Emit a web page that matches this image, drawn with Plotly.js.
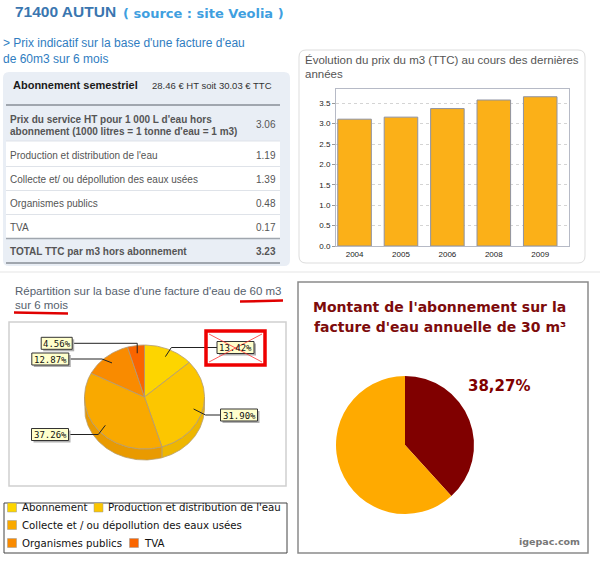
<!DOCTYPE html>
<html><head><meta charset="utf-8">
<script src="https://cdn.plot.ly/plotly-3.0.1.min.js"></script>
<style>html,body{margin:0;padding:0;background:#fff}#chart{width:600px;height:565px}</style>
</head><body><div id="chart"></div>
<script>
// ---------- DATA ----------
const years = ['2004', '2005', '2006', '2008', '2009'];
const prices = [3.11, 3.16, 3.37, 3.58, 3.66];

const pieLabels = ['Abonnement', "Production et distribution de l'eau", 'Collecte et / ou dépollution des eaux usées', 'Organismes publics', 'TVA'];
const pieValues = [13.42, 31.90, 37.26, 12.87, 4.56];
const pieColors = ['#FDD500', '#FCC600', '#F9A900', '#F98B00', '#FA6500'];
const pieSideColors = ['#E8C000', '#EEB600', '#E99A00', '#E67E00', '#E55A00'];

const tableLabels = ["Production et distribution de l'eau", 'Collecte et/ ou dépollution des eaux usées', 'Organismes publics', 'TVA'];
const tableValues = [1.19, 1.39, 0.48, 0.17];
const serviceHT = [3.06];
const totalTTC = [3.23];
const aboHT = [28.46];
const aboTTC = [30.03];

const aboLabels = ['Abonnement', 'Consommation'];
const aboShare = [38.27, 61.73];
const aboColors = ['#800000', '#FFAA00'];

// ---------- HELPERS ----------
const W = 600, H = 565;
const X = v => v / W, Y = v => 1 - v / H;
function rect(x0, y0, x1, y1, fill, lc, lw, layer) {
  return {type: 'rect', xref: 'paper', yref: 'paper', x0: X(x0), x1: X(x1), y0: Y(y1), y1: Y(y0),
    fillcolor: fill || 'rgba(0,0,0,0)', line: {color: lc || 'rgba(0,0,0,0)', width: lw || 0}, layer: layer || 'below'};
}
function seg(x0, y0, x1, y1, color, w, layer) {
  return {type: 'line', xref: 'paper', yref: 'paper', x0: X(x0), y0: Y(y0), x1: X(x1), y1: Y(y1),
    line: {color: color, width: w}, layer: layer || 'below'};
}
function roundRect(x0, y0, x1, y1, r, fill, lc, lw) {
  const p = (x, y) => X(x) + ',' + Y(y);
  const d = 'M' + p(x0 + r, y0) + ' L' + p(x1 - r, y0) + ' Q' + p(x1, y0) + ' ' + p(x1, y0 + r) +
    ' L' + p(x1, y1 - r) + ' Q' + p(x1, y1) + ' ' + p(x1 - r, y1) + ' L' + p(x0 + r, y1) +
    ' Q' + p(x0, y1) + ' ' + p(x0, y1 - r) + ' L' + p(x0, y0 + r) + ' Q' + p(x0, y0) + ' ' + p(x0 + r, y0) + ' Z';
  return {type: 'path', xref: 'paper', yref: 'paper', path: d, fillcolor: fill,
    line: {color: lc || 'rgba(0,0,0,0)', width: lw || 0}, layer: 'below'};
}
function txt(x, y, t, family, size, color, anchor) {
  return {xref: 'paper', yref: 'paper', x: X(x), y: Y(y), text: t, showarrow: false,
    xanchor: anchor || 'left', yanchor: 'middle', font: {family: family, size: size, color: color}};
}
const SANS = 'Liberation Sans, Arial, sans-serif';
const DEJA = 'DejaVu Sans, sans-serif';
const MONO = 'DejaVu Sans Mono, monospace';

const shapes = [];
const annotations = [];
const traces = [];

// ---------- HEADER ----------
annotations.push(txt(13, 12, '<b>71400 AUTUN</b>', SANS, 15.5, '#3a76b0'));
annotations.push(txt(121, 13, '<b>( source : site Veolia )</b>', DEJA, 13, '#3f9fe0'));
annotations.push(txt(1, 43, "> Prix indicatif sur la base d'une facture d'eau", SANS, 12, '#2f7dc1'));
annotations.push(txt(1, 59, 'de 60m3 sur 6 mois', SANS, 12, '#2f7dc1'));

// ---------- TABLE ----------
shapes.push(roundRect(3, 72, 290, 266, 6, '#e9eef5'));
shapes.push(rect(6, 141, 280, 238, '#ffffff'));
shapes.push(seg(6, 105, 280, 105, '#a0a6ae', 2));
[141, 166.5, 190.5, 214.5].forEach(yy => shapes.push(seg(6, yy, 280, yy, '#dfe3e9', 1)));
shapes.push(seg(6, 238.5, 280, 238.5, '#a0a6ae', 1.5));
shapes.push(seg(6, 263, 280, 263, '#a0a6ae', 2));

annotations.push(txt(11, 85, '<b>Abonnement semestriel</b>', SANS, 11, '#1a1a1a'));
annotations.push(txt(150, 85, aboHT[0].toFixed(2) + ' € HT soit ' + aboTTC[0].toFixed(2) + ' € TTC', SANS, 9.5, '#333'));
annotations.push(txt(8, 119, "<b>Prix du service HT pour 1 000 L d'eau hors</b>", SANS, 10, '#555'));
annotations.push(txt(8, 131, "<b>abonnement (1000 litres = 1 tonne d'eau = 1 m3)</b>", SANS, 10, '#555'));
annotations.push(txt(278, 124.5, serviceHT[0].toFixed(2), SANS, 10, '#555', 'right'));
const rowY = [155, 179, 203, 227];
tableLabels.forEach((l, i) => {
  annotations.push(txt(8, rowY[i], l, SANS, 10, '#555'));
  annotations.push(txt(278, rowY[i], tableValues[i].toFixed(2), SANS, 10, '#555', 'right'));
});
annotations.push(txt(8, 251.5, '<b>TOTAL TTC par m3 hors abonnement</b>', SANS, 10, '#555'));
annotations.push(txt(278, 251.5, '<b>' + totalTTC[0].toFixed(2) + '</b>', SANS, 10, '#555', 'right'));

// ---------- BAR PANEL ----------
shapes.push(roundRect(299, 50, 585, 263, 7, '#ffffff', '#dddddd', 1));
annotations.push(txt(303, 60, 'Évolution du prix du m3 (TTC) au cours des dernières', SANS, 11.5, '#555'));
annotations.push(txt(303, 73.5, 'années', SANS, 11.5, '#555'));
traces.push({type: 'bar', x: years, y: prices, xaxis: 'x', yaxis: 'y',
  marker: {color: '#FBB018', line: {color: '#8e92a2', width: 1}}, hoverinfo: 'skip'});

shapes.push(seg(0, 272, 600, 272, '#eeeeee', 1.5));

// ---------- BOTTOM-LEFT 3D PIE ----------
annotations.push(txt(13, 291, "Répartition sur la base d'une facture d'eau de 60 m3", SANS, 11.5, '#56616d'));
annotations.push(txt(13, 305, 'sur 6 mois', SANS, 11.5, '#56616d'));
shapes.push(seg(240, 301.5, 283, 300.5, '#e00000', 2.5, 'above'));
shapes.push(seg(14, 312.5, 68, 313.5, '#e00000', 2.5, 'above'));
shapes.push(rect(9, 322, 286, 486, '#ffffff', '#d0d0d0', 1.5));

const cx = 144.5, cy = 397, rx = 60, ry = 52, depth = 11;
const tot = pieValues.reduce((a, b) => a + b, 0);
function arcPts(a0, a1, dy) {
  const n = Math.max(2, Math.ceil((a1 - a0) / 0.02));
  const xs = [], ys = [];
  for (let k = 0; k <= n; k++) {
    const a = a0 + (a1 - a0) * k / n;
    xs.push(cx + rx * Math.sin(a)); ys.push(cy - ry * Math.cos(a) + dy);
  }
  return [xs, ys];
}
const sideTr = [], topTr = [], mids = [];
let acc = 0;
pieValues.forEach((v, i) => {
  const a0 = acc / tot * 2 * Math.PI, a1 = (acc + v) / tot * 2 * Math.PI;
  acc += v;
  mids.push((a0 + a1) / 2);
  const s0 = Math.max(a0, Math.PI / 2), s1 = Math.min(a1, 3 * Math.PI / 2);
  if (s1 > s0) {
    const [ux, uy] = arcPts(s0, s1, 0);
    const [lx, ly] = arcPts(s0, s1, depth);
    sideTr.push({type: 'scatter', mode: 'lines', xaxis: 'x2', yaxis: 'y2',
      x: ux.concat(lx.slice().reverse(), [ux[0]]), y: uy.concat(ly.slice().reverse(), [uy[0]]),
      fill: 'toself', fillcolor: pieSideColors[i], line: {color: '#b8a070', width: 0.8}, hoverinfo: 'skip'});
  }
  const [tx, ty] = arcPts(a0, a1, 0);
  topTr.push({type: 'scatter', mode: 'lines', xaxis: 'x2', yaxis: 'y2',
    x: [cx].concat(tx, [cx]), y: [cy].concat(ty, [cy]),
    fill: 'toself', fillcolor: pieColors[i], line: {color: '#b09a78', width: 0.8}, hoverinfo: 'skip'});
});
traces.push(...sideTr, ...topTr);

// labels (layout positions) & leader lines from slice mid-angles
const labelCenters = [[235.5, 347.5], [239, 415], [50, 434.5], [50.3, 359], [56.7, 343.3]];
const labelW = [37, 37, 37, 37, 31];
const leaderDx = [6, 12, -7, -10, 0];
pieValues.forEach((v, i) => {
  const m = mids[i];
  const px = cx + 0.85 * rx * Math.sin(m), py = cy - 0.85 * ry * Math.cos(m);
  const [lcx, lcy] = labelCenters[i];
  const right = lcx > cx;
  const edge = right ? lcx - labelW[i] / 2 : lcx + labelW[i] / 2;
  traces.push({type: 'scatter', mode: 'lines', xaxis: 'x2', yaxis: 'y2',
    x: [px, px + leaderDx[i], edge], y: [py, lcy, lcy], line: {color: '#222', width: 1}, hoverinfo: 'skip'});
  const bx0 = lcx - labelW[i] / 2, bx1 = lcx + labelW[i] / 2, by0 = lcy - 6, by1 = lcy + 6;
  shapes.push(rect(bx0 + 2, by0 + 2, bx1 + 2, by1 + 2, '#b0b0b0', null, 0, 'above'));
  shapes.push(rect(bx0, by0, bx1, by1, '#ffffcc', '#333', 1, 'above'));
  annotations.push(txt(lcx, lcy + 0.5, v.toFixed(2) + '%', MONO, 9, '#111', 'center'));
});
// red cross-out box
shapes.push(rect(206, 331, 265, 365, null, '#ee0000', 3.5, 'above'));
shapes.push(seg(209, 334, 262, 362, '#ff3030', 0.8, 'above'));
shapes.push(seg(209, 362, 262, 334, '#ff3030', 0.8, 'above'));

// legend
shapes.push(rect(4, 503, 287, 553, '#ffffff', '#444', 1));
const legendPos = [[7.5, 507.5], [94, 507.5], [7.5, 525], [7.5, 543], [129.5, 543]];
pieLabels.forEach((l, i) => {
  const [lx, ly] = legendPos[i];
  shapes.push(rect(lx, ly - 4.5, lx + 9, ly + 4.5, pieColors[i], '#999', 0.5, 'above'));
  annotations.push(txt(lx + 12, ly, l, DEJA, 10.2, '#111'));
});

// ---------- RIGHT PANEL ----------
shapes.push(rect(298, 282, 588, 553, '#ffffff', '#8a8a8a', 1.5));
annotations.push(txt(440, 307, "<b>Montant de l'abonnement sur la</b>", DEJA, 14, '#7d0b0b', 'center'));
annotations.push(txt(440, 327, "<b>facture d'eau annuelle de 30 m³</b>", DEJA, 14, '#7d0b0b', 'center'));
annotations.push(txt(466, 386, '<b>' + aboShare[0].toFixed(2).replace('.', ',') + '%</b>', DEJA, 15, '#800000'));
annotations.push(txt(582, 541, '<b>igepac.com</b>', DEJA, 9.5, '#777', 'right'));
traces.push({type: 'pie', labels: aboLabels, values: aboShare, sort: false, direction: 'clockwise', rotation: 0,
  marker: {colors: aboColors, line: {width: 0}}, textinfo: 'none', hoverinfo: 'skip',
  domain: {x: [X(336), X(474)], y: [Y(514), Y(376)]}});

// ---------- LAYOUT ----------
const layout = {
  width: W, height: H, margin: {l: 0, r: 0, t: 0, b: 0}, showlegend: false,
  paper_bgcolor: '#ffffff', plot_bgcolor: 'rgba(0,0,0,0)', hovermode: false, bargap: 0.277,
  xaxis: {domain: [X(336), X(569)], range: [-0.4, 4.62], type: 'category', anchor: 'y',
    showline: true, mirror: true, linecolor: '#b6bac6', linewidth: 1, ticks: '', showgrid: false,
    tickfont: {family: SANS, size: 8, color: '#222'}, fixedrange: true},
  yaxis: {domain: [Y(246), Y(89)], range: [0, 3.85], dtick: 0.5, tickformat: '.1f', anchor: 'x',
    showline: true, mirror: true, linecolor: '#b6bac6', linewidth: 1, ticks: 'outside', ticklen: 3,
    tickcolor: '#999', gridcolor: '#d4d4d4', griddash: 'dot', zeroline: false,
    tickfont: {family: SANS, size: 8, color: '#222'}, fixedrange: true},
  xaxis2: {domain: [X(9), X(286)], range: [9, 286], visible: false, anchor: 'y2', fixedrange: true},
  yaxis2: {domain: [Y(486), Y(322)], range: [486, 322], visible: false, anchor: 'x2', fixedrange: true},
  shapes: shapes, annotations: annotations
};
Plotly.newPlot('chart', traces, layout, {displayModeBar: false, staticPlot: true});
</script></body></html>
